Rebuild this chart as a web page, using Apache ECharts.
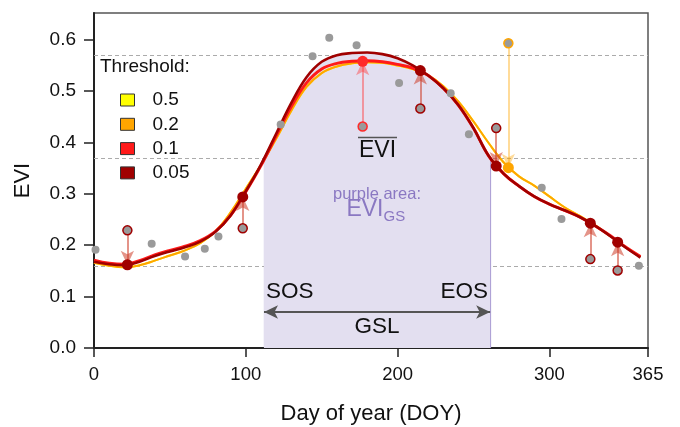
<!DOCTYPE html>
<html>
<head>
<meta charset="utf-8">
<script src="https://cdn.jsdelivr.net/npm/echarts@6/dist/echarts.min.js"></script>
<style>
html, body { margin: 0; padding: 0; background: #fff; }
#chart { width: 680px; height: 427px; }
</style>
</head>
<body>
<div id="chart"></div>
<script>
// sample days of the fitted curves
const curveDoy = [0, 10, 20, 30, 40, 50, 60, 70, 80, 90, 100, 110, 120, 130, 140, 150, 160, 170, 180,
  190, 200, 210, 220, 230, 240, 250, 260, 270, 280, 290, 300, 310, 320, 330, 340, 350, 360];
// fitted EVI for each threshold
const fit005 = [0.168, 0.163, 0.161, 0.168, 0.179, 0.188, 0.196, 0.207, 0.226, 0.258, 0.305, 0.357, 0.417, 0.477, 0.527, 0.557, 0.570, 0.574, 0.575,
  0.572, 0.564, 0.550, 0.531, 0.506, 0.473, 0.428, 0.374, 0.339, 0.315, 0.295, 0.280, 0.268, 0.255, 0.238, 0.218, 0.196, 0.176];
const fit01 = [0.171, 0.165, 0.163, 0.170, 0.181, 0.190, 0.198, 0.209, 0.227, 0.258, 0.304, 0.355, 0.413, 0.470, 0.516, 0.543, 0.554, 0.558, 0.559,
  0.557, 0.552, 0.545, 0.531, 0.506, 0.473, 0.428, 0.374, 0.339, 0.315, 0.295, 0.280, 0.268, 0.255, 0.238, 0.219, 0.197, 0.178];
const fit02 = [0.166, 0.160, 0.157, 0.161, 0.170, 0.180, 0.190, 0.204, 0.227, 0.264, 0.310, 0.356, 0.407, 0.462, 0.508, 0.535, 0.548, 0.554, 0.556,
  0.555, 0.550, 0.543, 0.531, 0.510, 0.480, 0.441, 0.399, 0.361, 0.334, 0.316, 0.295, 0.274, 0.257, 0.239, 0.218, 0.197, 0.178];
const fit05 = fit02; // threshold 0.5 lies under the 0.2 curve

// raw observations that were kept as they are
const rawDoy = [1, 38, 60, 73, 82, 123, 144, 155, 173, 201, 235, 247, 295, 308, 359];
const rawEvi = [0.191, 0.203, 0.178, 0.193, 0.217, 0.435, 0.568, 0.604, 0.589, 0.516, 0.496, 0.416, 0.312, 0.251, 0.160];

// observations moved by the fit: original and fitted value
const movDoy005 = [22, 98, 215, 265, 327, 345];
const movRaw005 = [0.229, 0.233, 0.466, 0.428, 0.173, 0.151];
const movFit005 = [0.162, 0.294, 0.540, 0.354, 0.243, 0.206];
const movDoy01 = [177];
const movRaw01 = [0.431];
const movFit01 = [0.558];
const movDoy02 = [273];
const movRaw02 = [0.593];
const movFit02 = [0.351];

const refLevels = [0.574, 0.368, 0.162];
const sosDoy = 112;
const eosDoy = 261;
const sosEvi = 0.368;
const gslEvi = 0.07;

const xTicks = [0, 100, 200, 300, 365];
const yTicks = [0, 0.1, 0.2, 0.3, 0.4, 0.5, 0.6];

const FONT = 'Liberation Sans, Arial, sans-serif';
const pairs = (xs, ys) => xs.map((x, i) => [x, ys[i]]);

// growing season area: curve between SOS and EOS
const gsArea = [[sosDoy, sosEvi]]
  .concat(pairs(curveDoy, fit005).filter(p => p[0] > sosDoy && p[0] < eosDoy))
  .concat([[eosDoy, sosEvi]]);

function arrows(xs, from, to, color) {
  return xs.map((x, i) => [{ coord: [x, from[i]] }, { coord: [x, to[i]], lineStyle: { color: color } }]);
}

function curve(name, ys, color, width, z) {
  return {
    name: name, type: 'line', data: pairs(curveDoy, ys), smooth: 0.4, showSymbol: false, silent: true, z: z,
    itemStyle: { color: color },
    lineStyle: { color: color, width: width }
  };
}

function dots(xs, ys, size, z, style) {
  return { type: 'scatter', data: pairs(xs, ys), symbolSize: size, z: z, silent: true,
    itemStyle: Object.assign({ opacity: 1 }, style) };
}

function label(x, y, text, size, color, align) {
  return { type: 'text', x: x, y: y, z: 20,
    style: { text: text, fontSize: size, fontFamily: FONT, fill: color, align: align || 'left', verticalAlign: 'middle' } };
}

const chart = echarts.init(document.getElementById('chart'));

const option = {
  animation: false,
  textStyle: { fontFamily: FONT },
  grid: { left: 94, right: 32, top: 13, bottom: 79, show: true, borderColor: '#555', borderWidth: 1.5,
    outerBoundsMode: 'none' },
  legend: {
    data: ['0.5', '0.2', '0.1', '0.05'],
    orient: 'vertical', left: 115, top: 85.5, itemWidth: 14, itemHeight: 12, itemGap: 5.3,
    icon: 'rect', selectedMode: false,
    itemStyle: { borderColor: '#333', borderWidth: 1 },
    textStyle: { fontSize: 19, color: '#111', padding: [0, 0, 0, 13] }
  },
  xAxis: {
    type: 'value', min: 0, max: 365,
    name: 'Day of year (DOY)', nameLocation: 'middle', nameGap: 55,
    nameTextStyle: { fontSize: 22, color: '#111' },
    axisLine: { lineStyle: { color: '#222', width: 2 } },
    axisTick: { customValues: xTicks, length: 9, lineStyle: { color: '#222', width: 1.5 } },
    axisLabel: { customValues: xTicks, fontSize: 18.5, color: '#111', margin: 17 },
    splitLine: { show: false }
  },
  yAxis: {
    type: 'value', min: 0, max: 0.652,
    name: 'EVI', nameLocation: 'middle', nameGap: 60,
    nameTextStyle: { fontSize: 22, color: '#111' },
    axisLine: { show: true, lineStyle: { color: '#222', width: 2 } },
    axisTick: { show: true, customValues: yTicks, length: 10, lineStyle: { color: '#222', width: 1.5 } },
    axisLabel: { customValues: yTicks, fontSize: 19, color: '#111', margin: 18, formatter: v => v.toFixed(1) },
    splitLine: { show: false }
  },
  series: [
    {
      name: 'gs', type: 'line', data: gsArea, smooth: 0.4, showSymbol: false, silent: true, z: 1,
      lineStyle: { width: 0 },
      areaStyle: { color: '#e3dff0', opacity: 1 },
      markLine: {
        silent: true, z: 1, symbol: 'none', label: { show: false },
        lineStyle: { color: '#a797d2', width: 1.2, type: 'solid' },
        data: [
          [{ coord: [sosDoy, 0] }, { coord: [sosDoy, sosEvi] }],
          [{ coord: [eosDoy, 0] }, { coord: [eosDoy, sosEvi] }]
        ].concat(refLevels.map(v => ({ yAxis: v, lineStyle: { color: '#ababab', width: 1, type: [4, 3] } })))
      }
    },
    {
      name: 'gsl', type: 'line', data: [], silent: true,
      markLine: {
        silent: true, z: 3, symbol: ['arrow', 'arrow'], symbolSize: [10, 14], label: { show: false },
        lineStyle: { color: '#555', width: 2, type: 'solid' },
        data: [[{ coord: [sosDoy, gslEvi] }, { coord: [eosDoy, gslEvi] }]]
      }
    },
    curve('0.5', fit05, '#ffff00', 2, 2),
    curve('0.2', fit02, '#ffa500', 2, 3),
    curve('0.1', fit01, '#ff1a1a', 3, 4),
    curve('0.05', fit005, '#a00000', 2.6, 5),
    {
      name: 'moves', type: 'line', data: [], silent: true,
      markLine: {
        silent: true, z: 6, symbol: ['none', 'arrow'], symbolSize: [10, 14], label: { show: false },
        lineStyle: { width: 2, type: 'solid' },
        data: arrows(movDoy005, movRaw005, movFit005, 'rgba(205,60,40,0.55)')
          .concat(arrows(movDoy01, movRaw01, movFit01, 'rgba(255,60,60,0.45)'))
          .concat(arrows(movDoy02, movRaw02, movFit02, 'rgba(255,165,0,0.4)'))
      }
    },
    dots(rawDoy, rawEvi, 8, 7, { color: '#9a9a9a' }),
    dots(movDoy005, movRaw005, 9, 7, { color: '#9a9a9a', borderColor: '#a00000', borderWidth: 1.5 }),
    dots(movDoy01, movRaw01, 9, 7, { color: '#9a9a9a', borderColor: '#ff2a2a', borderWidth: 1.5 }),
    dots(movDoy02, movRaw02, 9, 7, { color: '#9a9a9a', borderColor: '#ffa500', borderWidth: 1.5 }),
    dots(movDoy005, movFit005, 11, 8, { color: '#a00000' }),
    dots(movDoy01, movFit01, 11, 8, { color: '#ff2a2a' }),
    dots(movDoy02, movFit02, 11, 8, { color: '#ffa500' })
  ],
  graphic: [
    label(100, 67, 'Threshold:', 19, '#111'),
    label(266, 292, 'SOS', 22.5, '#111'),
    label(488, 292, 'EOS', 22.5, '#111', 'right'),
    label(377, 327, 'GSL', 22.5, '#111', 'center'),
    label(377.5, 151, 'EVI', 23, '#111', 'center'),
    { type: 'line', z: 20, shape: { x1: 358, y1: 137.5, x2: 397, y2: 137.5 }, style: { stroke: '#555', lineWidth: 1.5 } },
    label(377, 194, 'purple area:', 16.5, '#8a78c2', 'center'),
    label(383.5, 210, 'EVI', 23, '#8a78c2', 'right'),
    label(383.5, 217, 'GS', 15, '#8a78c2')
  ]
};

chart.setOption(option);
</script>
</body>
</html>
